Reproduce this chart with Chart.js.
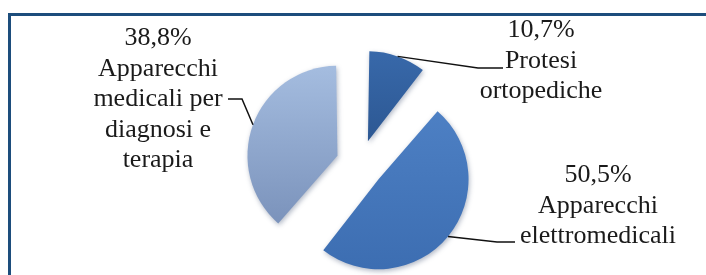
<!DOCTYPE html>
<html>
<head>
<meta charset="utf-8">
<script src="https://cdn.jsdelivr.net/npm/chart.js@4.4.1/dist/chart.umd.min.js"></script>
<style>
  html, body { margin:0; padding:0; background:#fff; }
  #wrap { position:relative; width:706px; height:275px; overflow:hidden; }
  #cornice { position:absolute; left:8px; top:13px; width:760px; height:320px; border:3px solid #1d4d7c; box-sizing:border-box; }
  canvas { position:absolute; left:0; top:0; }
</style>
</head>
<body>
<div id="wrap">
  <div id="cornice"></div>
  <canvas id="grafica" width="706" height="275"></canvas>
</div>
<script>
// dati del grafico
var categorie = [
    ['Protesi', 'ortopediche'],
    ['Apparecchi', 'elettromedicali'],
    ['Apparecchi', 'medicali per', 'diagnosi e', 'terapia']
];
var percentuali = [10.7, 50.5, 38.8];
var coloriSpicchi = [
    ['#3b6db0', '#1f4478'],
    ['#5285c9', '#3b6cb0'],
    ['#abc3e5', '#7189b3']
];

// posizione delle etichette e delle linee guida
var layoutEtichette = [
    { x: 541, y: 37, gomito: [478, 68], fine: [503, 68] },
    { x: 598, y: 182, gomito: [497, 242], fine: [515, 242] },
    { x: 158, y: 45, gomito: [242, 99], fine: [228, 99] }
];
var interlinea = 30.5;

function formattaPct(v) {
    return v.toFixed(1).replace('.', ',') + '%';
}

// il raggio degli spicchi esplosi viene riportato uguale per tutti
var compensa = {
    id: 'compensa',
    beforeDatasetDraw: function (chart, args) {
        args.meta.data.forEach(function (arc) {
            var off = (arc.options.offset || 0) / 4;
            var fix = 1 - Math.sin(Math.min(Math.PI, arc.circumference));
            arc._rOrig = arc.outerRadius;
            arc.outerRadius = arc.outerRadius - off * fix;
        });
        var ctx = chart.ctx;
        ctx.save();
        ctx.shadowColor = 'rgba(30,50,90,0.35)';
        ctx.shadowBlur = 5;
        ctx.shadowOffsetX = 1;
        ctx.shadowOffsetY = 2;
    },
    afterDatasetDraw: function (chart, args) {
        chart.ctx.restore();
        args.meta.data.forEach(function (arc) {
            arc.outerRadius = arc._rOrig;
        });
    }
};

var etichette = {
    id: 'etichette',
    afterDatasetsDraw: function (chart) {
        var ctx = chart.ctx;
        var arcs = chart.getDatasetMeta(0).data;
        ctx.save();
        ctx.strokeStyle = '#111';
        ctx.lineWidth = 1.5;
        ctx.fillStyle = '#1a1a1a';
        ctx.font = '26px "Liberation Serif", "Times New Roman", serif';
        ctx.textAlign = 'center';
        ctx.textBaseline = 'alphabetic';
        arcs.forEach(function (arc, i) {
            var p = layoutEtichette[i];
            var medio = (arc.startAngle + arc.endAngle) / 2;
            var d = (arc.options.offset || 0) / 4 + arc.outerRadius;
            ctx.beginPath();
            ctx.moveTo(arc.x + Math.cos(medio) * d, arc.y + Math.sin(medio) * d);
            ctx.lineTo(p.gomito[0], p.gomito[1]);
            ctx.lineTo(p.fine[0], p.fine[1]);
            ctx.stroke();
            var righe = [formattaPct(percentuali[i])].concat(categorie[i]);
            righe.forEach(function (t, j) {
                ctx.fillText(t, p.x, p.y + j * interlinea);
            });
        });
        ctx.restore();
    }
};

var mychart = new Chart(document.getElementById('grafica'), {
    type: 'pie',
    data: {
        labels: categorie.map(function (c) { return c.join(' '); }),
        datasets: [{
            data: percentuali,
            radius: 90,
            offset: 96,
            borderWidth: 0,
            clip: false,
            backgroundColor: function (c) {
                var area = c.chart.chartArea;
                var col = coloriSpicchi[c.dataIndex];
                if (!area) return col[0];
                var g = c.chart.ctx.createLinearGradient(0, area.top - 10, 0, area.bottom);
                g.addColorStop(0, col[0]);
                g.addColorStop(1, col[1]);
                return g;
            }
        }]
    },
    options: {
        responsive: false,
        animation: false,
        events: [],
        layout: { padding: { top: 60, bottom: 7, left: 200, right: 186 } },
        plugins: {
            legend: { display: false },
            tooltip: { enabled: false }
        }
    },
    plugins: [compensa, etichette]
});
</script>
</body>
</html>
